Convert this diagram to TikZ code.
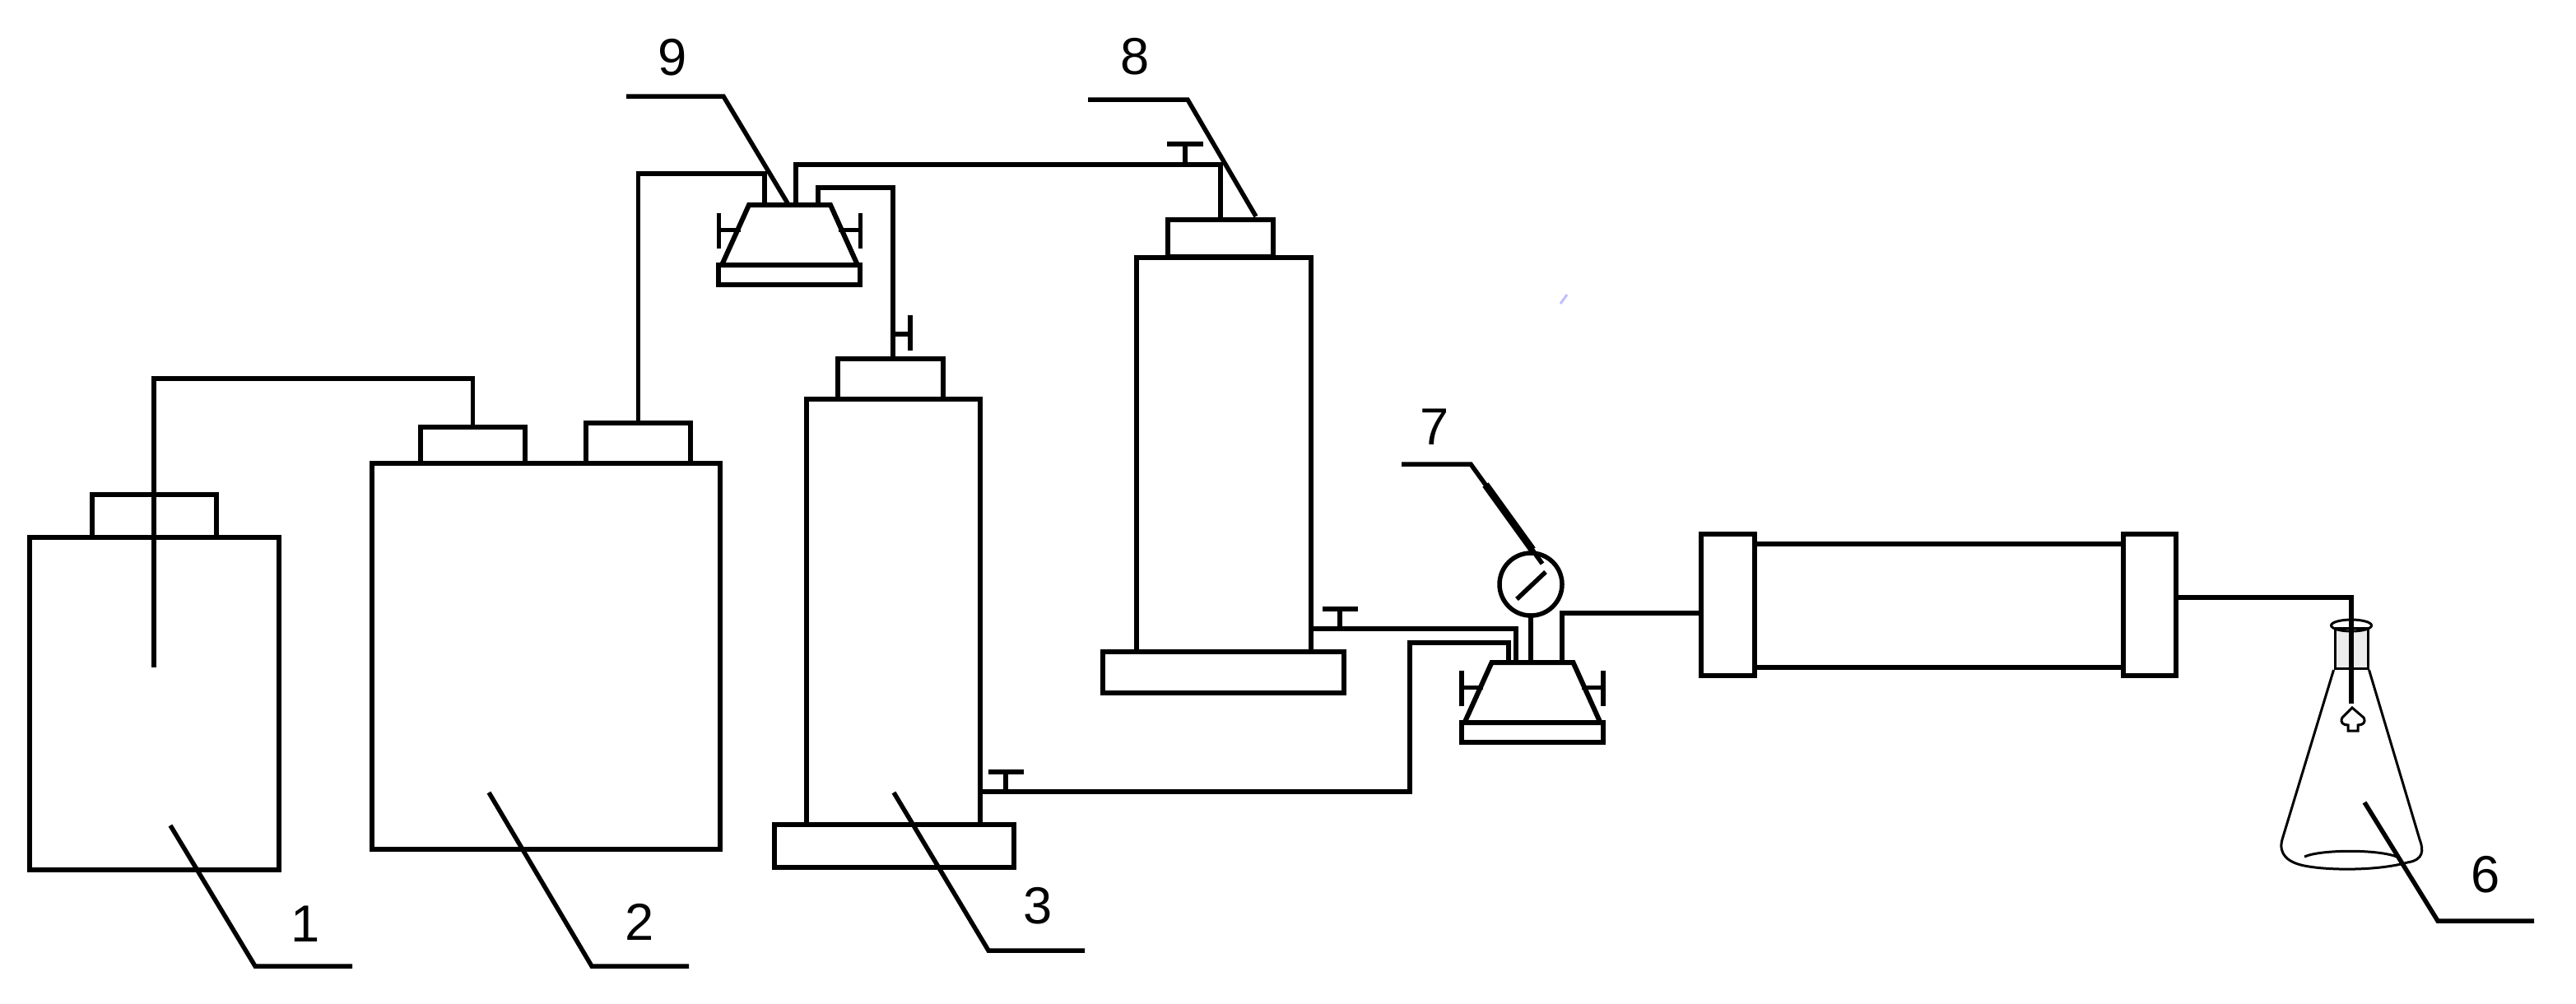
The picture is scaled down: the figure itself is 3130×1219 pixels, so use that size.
\documentclass[tikz,border=0pt]{standalone}
\usepackage{fontspec}
\setmainfont{Liberation Sans}
\usetikzlibrary{positioning,shapes.geometric,calc}

\begin{document}
\begin{tikzpicture}[
    x=0.1mm, y=-0.1mm,
    vessel/.style={draw, rectangle, line width=0.6mm, inner sep=0pt, outer sep=0pt},
    valve/.style={draw, trapezium, trapezium angle=65.7, line width=0.6mm, inner xsep=4.95mm, inner ysep=3.65mm, outer sep=0pt},
    tube/.style={line width=0.55mm, line join=miter},
    leader/.style={line width=0.55mm, line join=miter},
    glass/.style={line width=0.3mm},
    num/.style={inner sep=0pt, font=\fontsize{18}{20}\selectfont}
]
  \useasboundingbox (0,0) rectangle (3130,1219);

  % Bottles
  \node[vessel, minimum width=30.3mm, minimum height=40.4mm] (bottle1) at (187,855) {};
  \node[vessel, minimum width=15.1mm, minimum height=5.2mm] (cap1) at (187.5,627) {};
  \node[vessel, minimum width=42.3mm, minimum height=46.9mm] (bottle2) at (663.5,797.5) {};
  \node[vessel, minimum width=12.7mm, minimum height=4.4mm] (cap2a) at (574.5,541) {};
  \node[vessel, minimum width=12.7mm, minimum height=4.9mm] (cap2b) at (775.5,538.5) {};

  % Tall columns
  \node[vessel, minimum width=21.1mm, minimum height=51.7mm] (col3) at (1085.5,743.5) {};
  \node[vessel, minimum width=12.8mm, minimum height=4.9mm] (cap3) at (1082,460) {};
  \node[vessel, minimum width=29.1mm, minimum height=5.2mm] (base3) at (1086.5,1028) {};
  \node[vessel, minimum width=21.2mm, minimum height=47.9mm] (col8) at (1487,552.5) {};
  \node[vessel, minimum width=12.8mm, minimum height=4.5mm] (cap8) at (1483,289.5) {};
  \node[vessel, minimum width=29.3mm, minimum height=5mm] (base8) at (1486.5,817) {};

  % Valves and gauge
  \node[valve] (valve9) at (959.5,285.5) {};
  \node[vessel, minimum width=17.2mm, minimum height=2.4mm] (foot9) at (959,334) {};
  \node[valve] (valve7) at (1862,841.5) {};
  \node[vessel, minimum width=17.2mm, minimum height=2.4mm] (foot7) at (1862,890) {};
  \node[draw, circle, line width=0.55mm, minimum size=7.6mm, inner sep=0pt, outer sep=0pt] (gauge) at (1860,710) {};

  % Long tube with flanges
  \node[vessel, minimum width=44.8mm, minimum height=15mm] (body) at (2356,736) {};
  \node[vessel, minimum width=6.5mm, minimum height=17.2mm] (flangeL) at (2099.5,735) {};
  \node[vessel, minimum width=6.4mm, minimum height=17.2mm] (flangeR) at (2612,735) {};

  % Points on the pipes
  \coordinate (tip1) at (187,811);
  \coordinate (in9a) at (929,249);
  \coordinate (in9b) at (967,249);
  \coordinate (in9c) at (994,249);
  \coordinate (in3) at (1085,437);
  \coordinate (tap9) at (1440,200);
  \coordinate (tap3) at (1222,962);
  \coordinate (tap8) at (1628,764);
  \coordinate (bend3) at (1713,781);
  \coordinate (in7a) at (1833,805);
  \coordinate (in7b) at (1842,805);
  \coordinate (in7c) at (1898,805);
  \coordinate (inL) at (2067,745);
  \coordinate (outR) at (2644,726);
  \coordinate (tip6) at (2857,855);
  \coordinate (side3) at (1085,406);

  % Pipes
  \draw[tube] (cap2a.north) -- ++(0,-59) -| (tip1);
  \draw[tube] (cap2b.north) -- ++(0,-303) -| (in9a);
  \draw[tube] (in9b) -- ++(0,-49) -| (cap8.north);
  \draw[tube] (in9c) -- ++(0,-21) -| (in3);
  \draw[tube] (col3.east |- tap3) -| (bend3) -| (in7a);
  \draw[tube] (col8.east |- tap8) -| (in7b);
  \draw[tube] (gauge.south) -- (gauge.south |- valve7.north);
  \draw[tube] (in7c) |- (inL);
  \draw[tube] (outR) -| (tip6);

  % Taps on the pipes
  \draw[tube] (tap9) -- ++(0,-25) ++(-22,0) -- ++(44,0);
  \draw[tube] (tap3) -- ++(0,-24) ++(-21,0) -- ++(43,0);
  \draw[tube] (tap8) -- ++(0,-24) ++(-21,0) -- ++(43,0);
  \draw[tube] (side3) -- ++(21,0) ++(0,-23) -- ++(0,43);

  % Valve handles
  \foreach \vname in {valve9,valve7} {
    \draw[tube] ($(\vname.west)+(6,-6)$) -- ++(-26,0) ++(0,-21) -- ++(0,43);
    \draw[tube] ($(\vname.east)+(-6,-6)$) -- ++(26,0) ++(0,-21) -- ++(0,43);
  }

  % Gauge needle
  \coordinate (needleA) at (1843,728);
  \coordinate (needleB) at (1878,695);
  \draw[tube] (needleA) -- (needleB);

  % Flask
  \node[draw, fill=gray!15, glass, minimum width=4mm, minimum height=4.9mm, inner sep=0pt] (stopper) at (2857,788) {};
  \node[draw, ellipse, glass, minimum width=4.9mm, minimum height=1.4mm, inner sep=0pt] (rim) at (2857,760) {};
  \draw[tube] (2857,725) -- (tip6);
  \draw[glass] (stopper.south west) -- (2773,1020) .. controls (2768,1038) and (2780,1048) .. (2800,1052) .. controls (2830,1058) and (2890,1058) .. (2925,1048) .. controls (2945,1045) and (2945,1033) .. (2940,1020) -- (stopper.south east);
  \draw[glass] (2800,1041) .. controls (2820,1032) and (2890,1032) .. (2912,1041);
  \draw[glass] (2858,860) -- (2846,872) .. controls (2843,878) and (2847,881) .. (2853,881) -- (2853,888) -- (2865,888) -- (2865,881) .. controls (2871,881) and (2875,878) .. (2872,872) -- cycle;

  % Leader lines
  \foreach \n/\sx/\sy/\kx/\ky/\ex in {1/207/1003/310/1174/428, 2/594/963/719/1174/837, 3/1086/963/1201/1155/1318, 6/2873/975/2962/1119/3079, 7/1874/685/1787/564/1703, 8/1526/263/1443/121/1322, 9/957/247/879/117/761} {
    \coordinate (point\n) at (\sx,\sy);
    \coordinate (knee\n) at (\kx,\ky);
    \coordinate (tail\n) at (\ex,\ky);
    \draw[leader] (point\n) -- (knee\n) -- (tail\n);
  }
  \coordinate (thickA) at (1805,589);
  \coordinate (thickB) at (1862,668);
  \draw[line width=0.9mm] (thickA) -- (thickB);

  % Speck
  \draw[line width=0.3mm, blue!25] (1896,369) -- (1904,358);

  % Numbers
  \node[num] (num1) at (371,1123) {1};
  \node[num] (num2) at (777,1120) {2};
  \node[num] (num3) at (1261,1101) {3};
  \node[num] (num6) at (3020,1063) {6};
  \node[num] (num7) at (1743,519) {7};
  \node[num] (num8) at (1379,69) {8};
  \node[num] (num9) at (817,70) {9};
\end{tikzpicture}
\end{document}
